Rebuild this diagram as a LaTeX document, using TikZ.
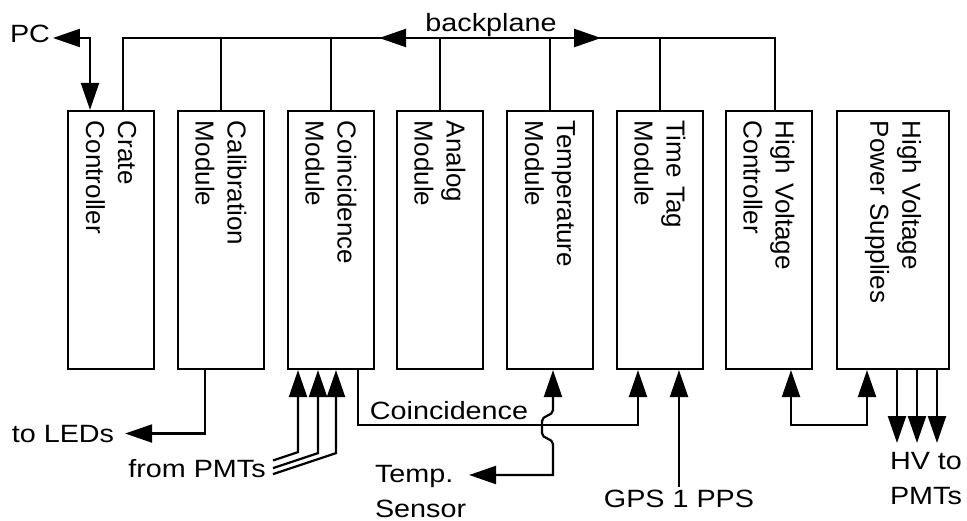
\documentclass[tikz,border=0pt]{standalone}
\usepackage{fontspec}
\setmainfont{Liberation Sans}[FakeStretch=1.15]
\newfontfamily\modfont{Liberation Sans}
\usepackage{tikz}
\usetikzlibrary{arrows.meta,decorations.markings}

\tikzset{bigtri/.tip={Triangle[length=27pt,width=18pt]}}

\begin{document}
\begin{tikzpicture}[x=1pt, y=-1pt, line width=2.2pt,
  module/.style={draw, rotate=-90, minimum width=258pt, minimum height=86pt,
    inner xsep=10pt, text width=238pt, align=left,
    font=\modfont\fontsize{26}{32}\selectfont},
  lbl/.style={inner sep=1pt, outer sep=2pt, align=left,
    font=\fontsize{25}{35}\selectfont}]
  \useasboundingbox (0,0) rectangle (967,521);

  % crate modules
  \node[module] at (111,240) (crate) {Crate\\Controller};
  \node[module] at (221,240) (calib) {Calibration\\Module};
  \node[module] at (331,240) (coinc) {Coincidence\\Module};
  \node[module] at (440,240) (analog) {Analog\\Module};
  \node[module] at (550,240) (temp) {Temperature\\Module};
  \node[module] at (660,240) (timetag) {Time Tag\\Module};
  \node[module] at (769,240) (hvctrl) {High Voltage\\Controller};
  \node[module, minimum height=112pt] at (893,240) (hvps) {High Voltage\\Power Supplies};

  % outside world
  \node[lbl, anchor=base] at (30,43) (pc) {PC};
  \node[lbl, anchor=base] at (491,32) (bp) {backplane};
  \node[lbl, anchor=base] at (63,442) (leds) {to LEDs};
  \node[lbl, anchor=base] at (197,477) (pmts) {from PMTs};
  \node[lbl, anchor=base] at (449,420) (coinclbl) {Coincidence};
  \node[lbl, anchor=north west] at (372,462) (tsens) {Temp.\\Sensor};
  \node[lbl, anchor=base] at (679,507) (gps) {GPS 1 PPS};
  \node[lbl, anchor=north, align=center] at (926,449) (hvpmt) {HV to\\PMTs};

  \coordinate (bus) at (450,38);
  \coordinate (hvend) at (0,443);

  % backplane
  \draw[postaction={decorate}, decoration={markings,
      mark=at position 328pt with {\arrowreversed{bigtri}},
      mark=at position 550pt with {\arrow{bigtri}}}]
    ([xshift=12pt]crate.west) |- (bus) -| ([xshift=6pt]hvctrl.west);
  \foreach \m in {calib, coinc, analog, temp, timetag}
    \draw (\m.west) -- (\m.west |- bus);
  \draw[bigtri-bigtri] (pc.east |- bus) -| ([xshift=-21pt]crate.west);

  % front panel cables
  \draw[-bigtri] ([xshift=-16pt]calib.east) |- ([xshift=8pt]leds.east);
  \foreach \dx/\dy/\len in {-33/82/25, -13/83/45, 5/83/63}
    \draw[bigtri-] ([xshift=\dx pt]coinc.east) -- ++(0,\dy) -- ++(-\len,\len/3);
  \draw[-bigtri] ([xshift=27pt]coinc.east) -- ++(0,55) -| ([xshift=-22pt]timetag.east);
  \draw[bigtri-bigtri] ([xshift=3pt]temp.east) -- ++(0,40) to[out=-90,in=90] ++(-11,11)
    -- ++(0,12) to[out=-90,in=90] ++(11,11) |- ([yshift=-13pt]tsens.north east);
  \draw[-bigtri] (gps) -- ([xshift=19pt]timetag.east);
  \draw[bigtri-bigtri] ([xshift=22pt]hvctrl.east) -- ++(0,55) -| ([xshift=-26pt]hvps.east);
  \foreach \dx in {4,24,44}
    \draw[-bigtri] ([xshift=\dx pt]hvps.east) -- ([xshift=\dx pt]hvps.east |- hvend);
\end{tikzpicture}
\end{document}
